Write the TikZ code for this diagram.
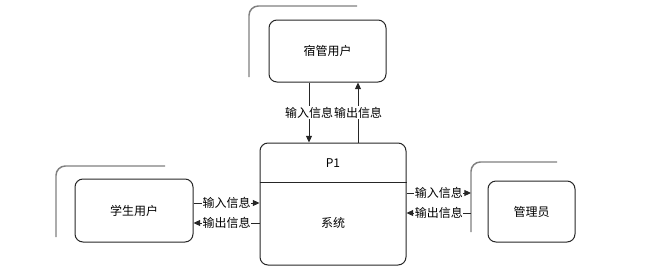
\documentclass[tikz,border=0pt]{standalone}
\usepackage{fontspec}
\setmainfont{Noto Sans CJK SC}
\usetikzlibrary{arrows.meta}
\begin{document}
\begin{tikzpicture}[x=0.75pt,y=-0.75pt,
  ent/.style={draw=black!85,line width=0.75pt,rounded corners=6pt,inner sep=0pt,font=\fontsize{9pt}{11pt}\selectfont},
  deco/.style={draw=black!50,line width=1.1pt,rounded corners=7pt},
  arr/.style={draw=black!85,line width=0.75pt,-{Triangle[length=5pt,width=4.5pt]}},
  lbl/.style={fill=white,inner sep=0.5pt,font=\fontsize{9pt}{11pt}\selectfont},
  txt/.style={inner sep=0pt,font=\fontsize{9pt}{11pt}\selectfont}]
\useasboundingbox (0,0) rectangle (658,276);
% decorations
\draw[deco] (249,77) -- (249,6) -- (357,6);
\draw[deco] (56,237) -- (56,166) -- (165,166);
\draw[deco] (471,232) -- (471,162) -- (557,162);
\coordinate (adeco) at (471,200);
% entities
\node[ent,minimum width=117*0.75pt,minimum height=62*0.75pt] (sg) at (327.5,51) {宿管用户};
\node[ent,minimum width=118*0.75pt,minimum height=63*0.75pt] (xs) at (134,210.5) {学生用户};
\node[ent,minimum width=87*0.75pt,minimum height=61*0.75pt] (gl) at (531.5,211.5) {管理员};
\node[ent,minimum width=146*0.75pt,minimum height=122*0.75pt] (sys) at (333,204) {};
\coordinate (div) at (333,182);
\draw[draw=black!85,line width=0.75pt] (sys.west |- div) -- (sys.east |- div);
\node[txt] (p1) at (333,163) {P1};
\node[txt] (xt) at (333,223) {系统};
% connector x/y positions
\coordinate (cx1) at (309,0);
\coordinate (cx2) at (358,0);
\coordinate (ly1) at (0,203);
\coordinate (ly2) at (0,223);
\coordinate (ry1) at (0,193);
\coordinate (ry2) at (0,213);
% top
\draw[arr] (sg.south -| cx1) -- node[lbl] {输入信息} (sys.north -| cx1);
\draw[arr] (sys.north -| cx2) -- node[lbl] {输出信息} (sg.south -| cx2);
% left
\draw[arr] (xs.east |- ly1) -- node[lbl] {输入信息} (sys.west |- ly1);
\draw[arr] (sys.west |- ly2) -- node[lbl] {输出信息} (xs.east |- ly2);
% right
\draw[arr] (sys.east |- ry1) -- node[lbl] {输入信息} (adeco |- ry1);
\draw[arr] (adeco |- ry2) -- node[lbl] {输出信息} (sys.east |- ry2);
\end{tikzpicture}
\end{document}
